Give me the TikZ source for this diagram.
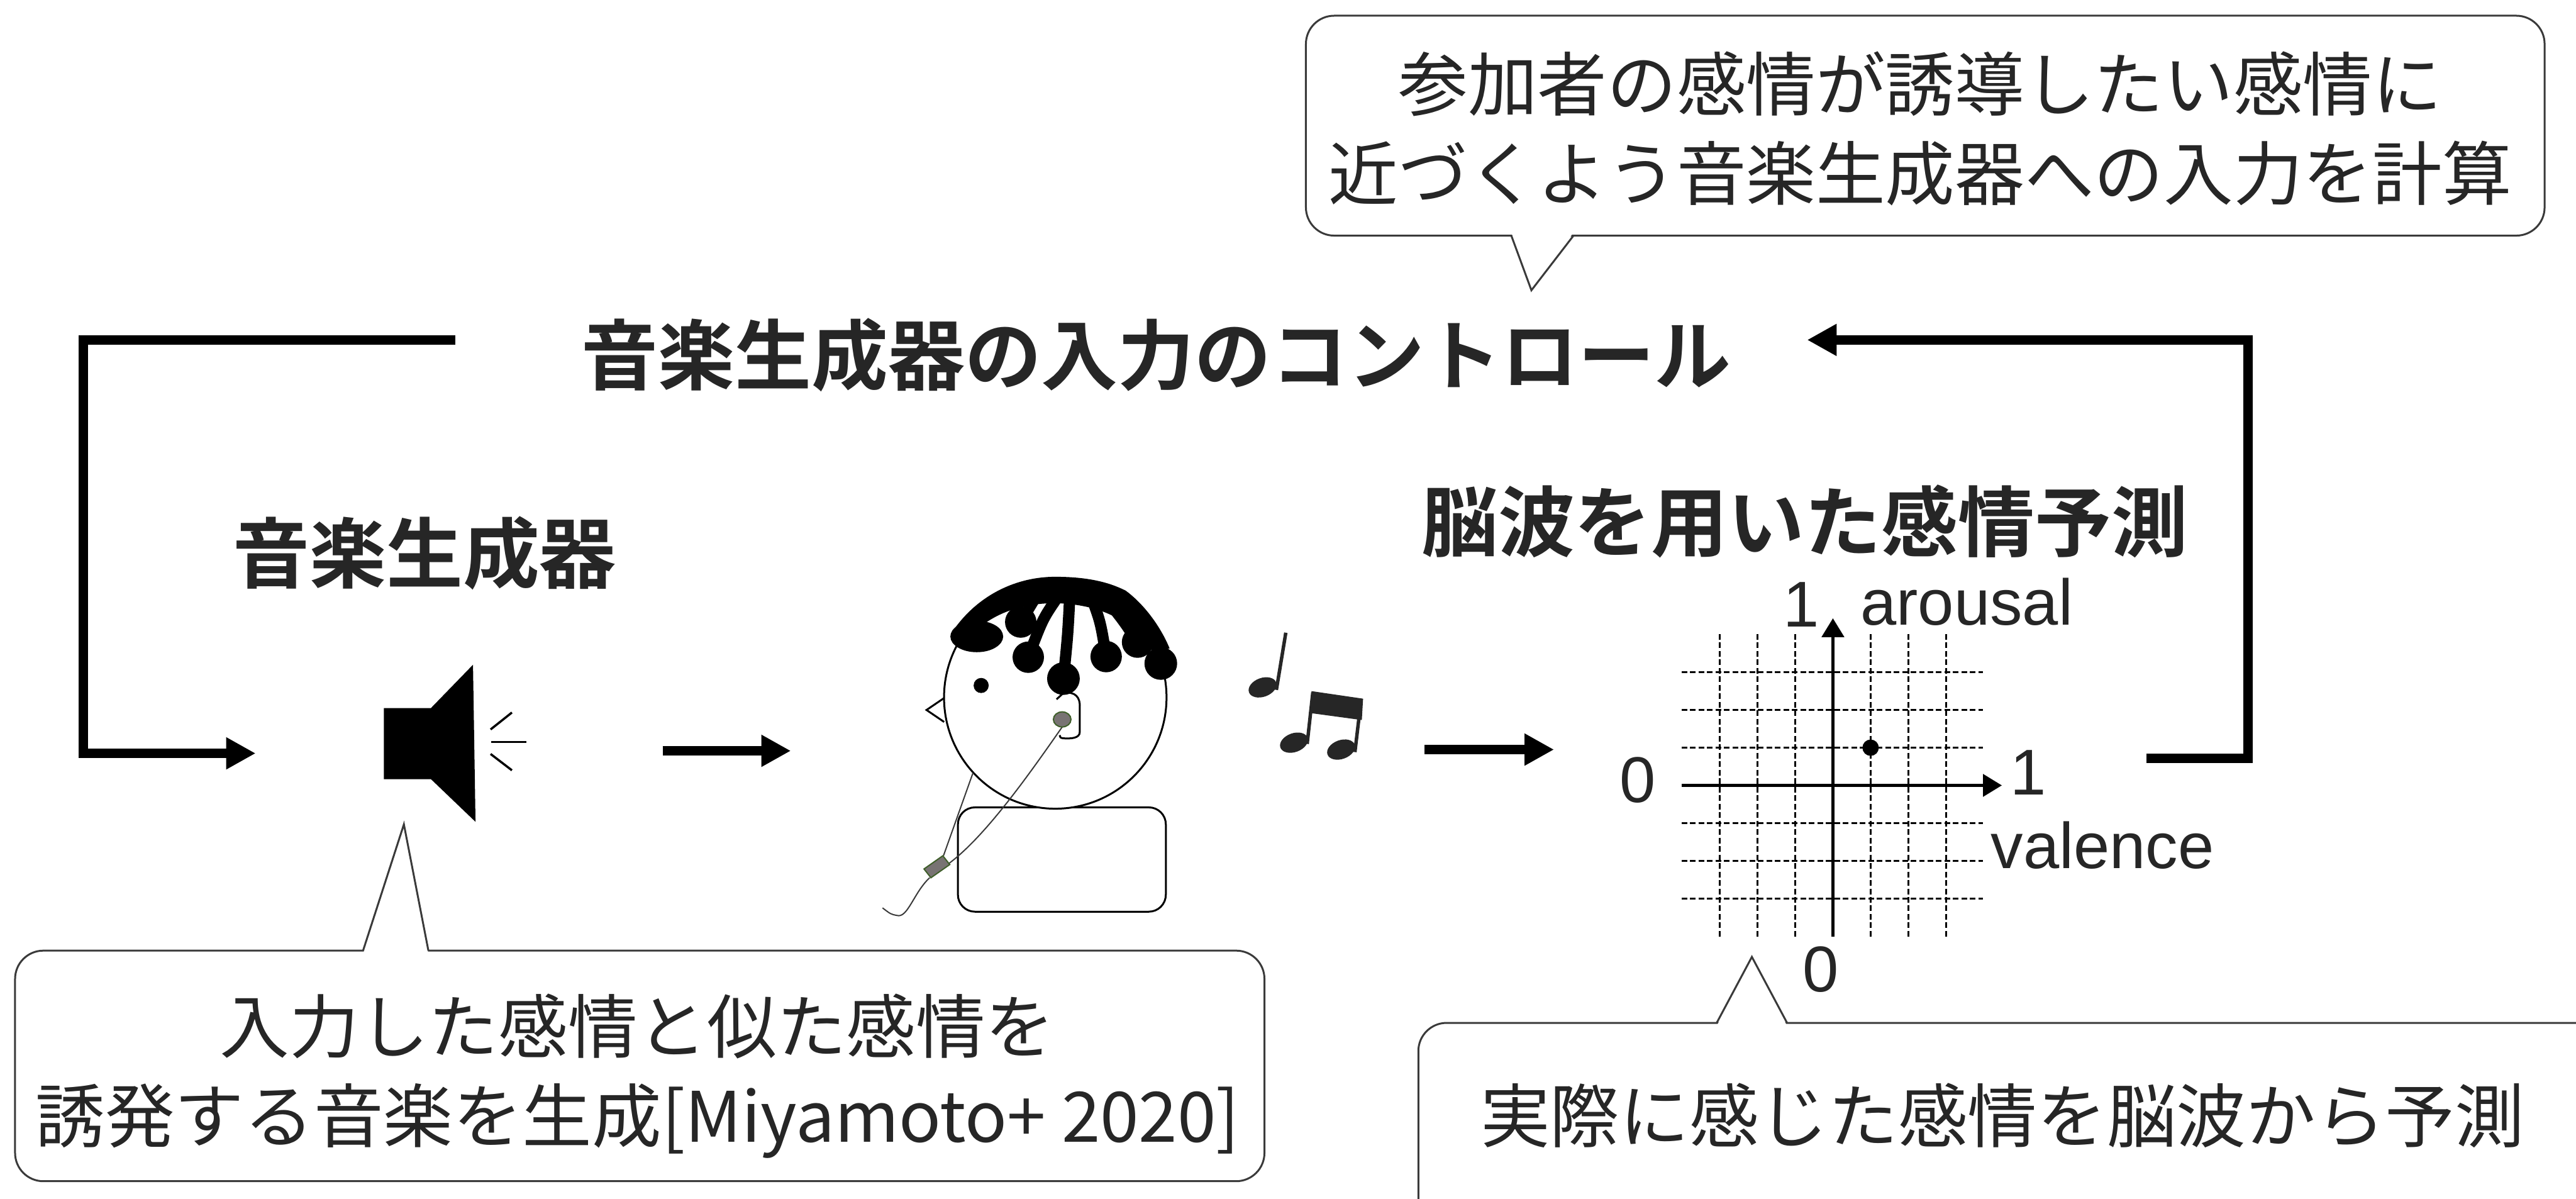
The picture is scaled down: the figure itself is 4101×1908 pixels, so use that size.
\documentclass[tikz,border=0pt]{standalone}
\usepackage{fontspec}
\setmainfont{Noto Sans CJK JP}[BoldFont={Noto Sans CJK JP Bold}]
\newfontfamily\latinfont{Liberation Sans}
\usepackage{tikz}
\usetikzlibrary{arrows.meta,positioning}
\definecolor{ink}{HTML}{262626}
\definecolor{edge}{HTML}{3A3A3A}
\definecolor{plug}{HTML}{787373}
\definecolor{plugrim}{HTML}{3F5F2A}

\tikzset{
	loopline/.style={line width=0.15cm, line join=miter},
	flow/.style={loopline, -{Triangle[length=0.47cm,width=0.48cm]}},
	title/.style={font=\bfseries\fontsize{34.7}{40}\selectfont, text=ink, inner sep=0pt},
	bubble/.style={draw=edge, line width=0.03cm, fill=white, rounded corners=0.45cm},
	bubbleedge/.style={draw=edge, line width=0.03cm},
	bubbletext/.style={font=\fontsize{31.5}{40.5}\selectfont, text=ink, align=center, inner sep=0pt},
	gridline/.style={dash pattern=on 0.09cm off 0.045cm, line width=0.028cm},
	axis/.style={line width=0.055cm, -{Triangle[length=0.3cm,width=0.35cm]}},
	num/.style={font=\latinfont\fontsize{29.3}{34}\selectfont, text=ink, inner sep=0pt},
	outline/.style={draw, line width=0.03cm},
	wire/.style={draw=edge, line width=0.02cm}
}

\begin{document}
\begin{tikzpicture}[x=0.01cm, y=-0.01cm]
	\useasboundingbox (0,0) rectangle (4101,1908);
	\clip (0,0) rectangle (4101,1908);

	% labels
	\node[title] (ctrl) at (1841,565) {音楽生成器の入力のコントロール};
	\node[title] (gen) at (676,880) {音楽生成器};
	\node[title] (pred) at (2873,830) {脳波を用いた感情予測};

	% feedback loop
	\coordinate (loopL) at (725,541);
	\coordinate (cornerL) at (133,541);
	\coordinate (genIn) at (407,1199);
	\coordinate (loopR) at (3417,1207);
	\coordinate (cornerR) at (3579,541);
	\coordinate (ctrlIn) at (2877,541);
	\draw[flow] (loopL) -- (cornerL) |- (genIn);
	\draw[flow] (loopR) -| (cornerR) -- (ctrlIn);

	\coordinate (spkOut) at (1055,1195);
	\coordinate (earIn) at (1259,1195);
	\coordinate (noteOut) at (2268,1193);
	\coordinate (eegIn) at (2474,1193);
	\draw[flow] (spkOut) -- (earIn);
	\draw[flow] (noteOut) -- (eegIn);

	% speaker
	\fill (611,1127) -- (686,1127) -- (753,1058) -- (757,1308) -- (686,1240) -- (611,1240) -- cycle;
	\draw[line width=0.035cm] (781,1161) -- (815,1134);
	\draw[line width=0.035cm] (782,1181) -- (838,1181);
	\draw[line width=0.035cm] (781,1200) -- (815,1226);

	% listener
	\draw[outline, rounded corners=0.27cm] (1525,1285) rectangle (1856,1451);
	\draw[outline, fill=white] (1680,1110) circle [radius=1.77cm];
	\draw[outline, line join=miter] (1503,1111) -- (1475,1130) -- (1503,1149);
	\fill (1562,1091) circle [radius=0.12cm];
	\draw[outline] (1682,1113) -- (1693,1103) .. controls (1712,1100) and (1720,1110) .. (1719,1126)
		-- (1719,1165) .. controls (1719,1175) and (1705,1176) .. (1692,1175) .. controls (1688,1174) .. (1687,1170);
	\fill (1520,1000) .. controls (1560,945) and (1620,918) .. (1680,918) .. controls (1740,918) and (1772,930) .. (1792,940)
		.. controls (1822,962) and (1848,998) .. (1862,1032) -- (1836,1040) .. controls (1812,998) and (1765,962) .. (1680,960)
		.. controls (1620,960) and (1578,980) .. (1548,1008) -- cycle;
	\begin{scope}[line width=0.18cm]
		\draw (1652,945) -- (1625,990);
		\draw (1684,950) .. controls (1660,985) .. (1637,1046);
		\draw (1703,950) .. controls (1700,1010) .. (1693,1080);
		\draw (1738,952) .. controls (1752,990) .. (1761,1045);
		\draw (1760,952) .. controls (1790,990) .. (1811,1022);
	\end{scope}
	\fill (1555,1013) ellipse [x radius=0.42cm, y radius=0.25cm];
	\foreach \hx/\hy/\hr in {1625/990/25, 1637/1046/25, 1693/1080/26, 1761/1045/25, 1811/1022/25, 1848/1056/26}
		\fill (\hx,\hy) circle [radius=\hr*0.01cm];
	\draw[wire] (1691,1157) .. controls (1640,1230) and (1570,1330) .. (1511,1374);
	\draw[wire] (1549,1230) -- (1502,1362);
	\draw[wire] (1480,1397) .. controls (1455,1420) and (1445,1462) .. (1428,1457) .. controls (1418,1455) .. (1405,1445);
	\draw[draw=plugrim, fill=plug, line width=0.02cm] (1471,1383) -- (1501,1362) -- (1512,1376) -- (1482,1397) -- cycle;
	\draw[draw=plugrim, fill=plug, line width=0.02cm] (1691,1145) ellipse [x radius=0.14cm, y radius=0.12cm];

	% notes
	\begin{scope}[ink]
		\fill[rotate around={20:(2010,1094)}] (2010,1094) ellipse [x radius=0.23cm, y radius=0.15cm];
		\fill[rotate around={20:(2060,1182)}] (2060,1182) ellipse [x radius=0.23cm, y radius=0.15cm];
		\fill[rotate around={20:(2135,1193)}] (2135,1193) ellipse [x radius=0.23cm, y radius=0.15cm];
		\draw[line width=0.055cm] (2032,1098) -- (2047,1007);
		\draw[line width=0.055cm] (2081,1184) -- (2090,1102);
		\draw[line width=0.055cm] (2157,1197) -- (2167,1113);
		\fill (2088,1100) -- (2170,1112) -- (2168,1146) -- (2087,1135) -- cycle;
	\end{scope}

	% valence-arousal plane
	\foreach \i in {-3,...,3} {
		\draw[gridline] ({2918+60*\i},1009) -- ({2918+60*\i},1491);
		\draw[gridline] (2677,{1250+60*\i}) -- (3157,{1250+60*\i});
	}
	\coordinate (vstart) at (2677,1250);
	\coordinate (vend) at (3187,1250);
	\coordinate (astart) at (2918,1491);
	\coordinate (aend) at (2918,984);
	\draw[axis] (vstart) -- (vend);
	\draw[axis] (astart) -- (aend);
	\fill (2978,1190) circle [radius=0.13cm];
	\node[num] (xmin) at (2607,1242) {0};
	\node[num] (xmax) at (3229,1230) {1};
	\node[num] (val) at (3347,1345) {valence};
	\node[num] (ymax) at (2868,962) {1};
	\node[num] (aro) at (3131,958) {arousal};
	\node[num] (ymin) at (2899,1543) {0};

	% speech bubbles
	\draw[bubble] (2079,25) rectangle (4051,375);
	\fill[white] (2406,370) -- (2438,462) -- (2505,370) -- cycle;
	\draw[bubbleedge] (2406,375) -- (2438,462) -- (2505,375);
	\node[bubbletext] (aim) at (3057,205) {参加者の感情が誘導したい感情に\\近づくよう音楽生成器への入力を計算};

	\draw[bubble] (24,1513) rectangle (2013,1880);
	\fill[white] (578,1518) -- (643,1312) -- (682,1518) -- cycle;
	\draw[bubbleedge] (578,1513) -- (643,1312) -- (682,1513);
	\node[bubbletext] (music) at (1015,1713) {入力した感情と似た感情を\\誘発する音楽を生成[Miyamoto+ 2020]};

	\draw[bubble] (2258,1628) rectangle (4150,1980);
	\fill[white] (2733,1633) -- (2789,1523) -- (2845,1633) -- cycle;
	\draw[bubbleedge] (2733,1628) -- (2789,1523) -- (2845,1628);
	\node[bubbletext] (eeg) at (3188,1775) {実際に感じた感情を脳波から予測};
\end{tikzpicture}
\end{document}
